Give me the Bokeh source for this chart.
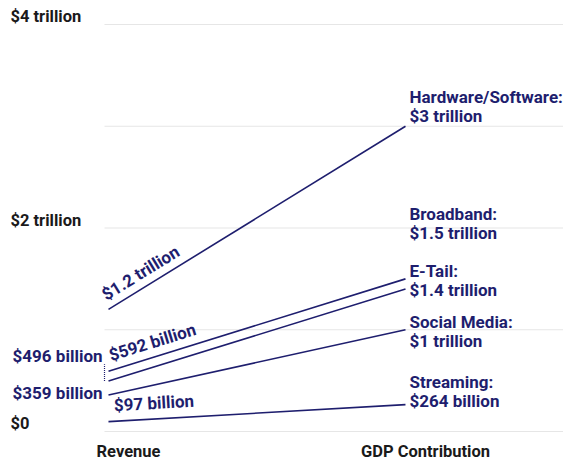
import math
from bokeh.plotting import figure
from bokeh.models import Range1d
from bokeh.core.properties import value
from bokeh.embed import file_html
from bokeh.resources import INLINE

# ---- data (trillions of dollars) ----
categories = ["Hardware/Software", "Broadband", "E-Tail", "Social Media", "Streaming"]
revenue = [1.2, 0.592, 0.496, 0.359, 0.097]
gdp = [3.0, 1.5, 1.4, 1.0, 0.264]
revenue_labels = ["$1.2 trillion", "$592 billion", "$496 billion", "$359 billion", "$97 billion"]
gdp_labels = ["$3 trillion", "$1.5 trillion", "$1.4 trillion", "$1 trillion", "$264 billion"]
axis_ticks = [0, 2, 4]
axis_tick_labels = ["$0", "$2 trillion", "$4 trillion"]
grid_ticks = [0, 1, 2, 3, 4]
x_names = ["Revenue", "GDP Contribution"]

NAVY = "#1e1e6e"
FONT = value("Roboto")
W, H = 563, 464

# pixel geometry -> ranges
px_x0, px_x1 = 108, 405
px_y0, px_per = 431, 101.75
xs = (px_x1 - px_x0)
x_start = -px_x0 / xs
x_end = (W - px_x0) / xs
y_start = -(H - px_y0) / px_per
y_end = px_y0 / px_per

p = figure(width=W, height=H, output_backend="svg", toolbar_location=None,
           x_range=Range1d(x_start, x_end), y_range=Range1d(y_start, y_end),
           min_border=0, border_fill_color="white", outline_line_color=None)
p.axis.visible = False
p.grid.visible = False

# gridlines
gx0 = -4 / xs
p.segment(x0=[gx0] * len(grid_ticks), x1=[x_end] * len(grid_ticks), y0=grid_ticks, y1=grid_ticks,
          line_color="#e6e6e6", line_width=1.2)

# y tick labels
p.text(x=[x_start] * len(axis_ticks), y=axis_ticks, text=axis_tick_labels, x_offset=10, y_offset=-8,
       text_font=FONT, text_font_size="16.5px", text_color="#1a1a1a", text_font_style="bold",
       text_align="left", text_baseline="middle")

# x category labels
p.text(x=[0, 1], y=[0, 0], text=x_names, x_offset=20, y_offset=20,
       text_font=FONT, text_font_size="16.5px", text_color="#1a1a1a", text_font_style="bold",
       text_align="center", text_baseline="middle")

# slope lines
p.segment(x0=[0] * len(revenue), x1=[1] * len(gdp), y0=revenue, y1=gdp, line_color=NAVY, line_width=1.6)

# dotted connector between E-Tail and Broadband revenue
p.segment(x0=[-4 / xs], x1=[-4 / xs], y0=[revenue[2]], y1=[revenue[1] + 0.07],
          line_color=NAVY, line_width=1.2, line_dash="1 1")

# right-side labels (name / value), offsets in pixels
name_off = [-29, -65, -18, -8, -23]
val_off = [-10, -46, 1, 11, -4]
p.text(x=[1] * 5, y=gdp, text=[c + ":" for c in categories], x_offset=4, y_offset=name_off,
       text_font=FONT, text_font_size="17px", text_color=NAVY, text_font_style="bold",
       text_align="left", text_baseline="middle")
p.text(x=[1] * 5, y=gdp, text=gdp_labels, x_offset=4, y_offset=val_off,
       text_font=FONT, text_font_size="17px", text_color=NAVY, text_font_style="bold",
       text_align="left", text_baseline="middle")

# rotated labels along lines
def slope_angle(i):
    return math.atan((gdp[i] - revenue[i]) * px_per / xs)

for i, xo, yo in [(0, 0.0, -5), (1, 0.013, -5), (4, 0.02, -6)]:
    xpos = 0.0 + xo
    ypos = revenue[i] + (gdp[i] - revenue[i]) * xpos
    p.text(x=[xpos], y=[ypos], text=[revenue_labels[i]], angle=slope_angle(i), y_offset=yo,
           text_font=FONT, text_font_size="17px", text_color=NAVY, text_font_style="bold",
           text_align="left", text_baseline="bottom")

# left labels
p.text(x=[0, 0], y=[revenue[2], revenue[3]], text=[revenue_labels[2], revenue_labels[3]],
       x_offset=-6, y_offset=[-25, -2],
       text_font=FONT, text_font_size="17px", text_color=NAVY, text_font_style="bold",
       text_align="right", text_baseline="middle")

open("out.html", "w").write(file_html(p, INLINE))
